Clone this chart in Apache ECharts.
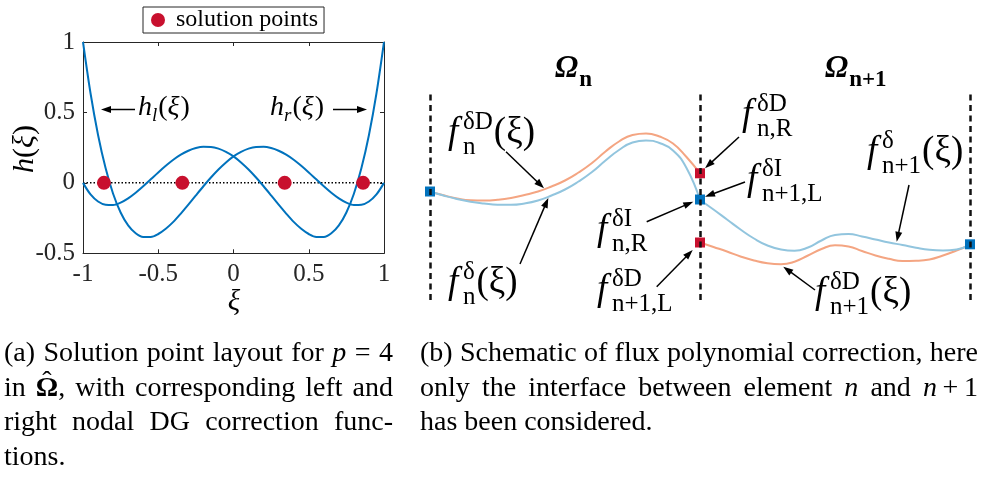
<!DOCTYPE html>
<html>
<head>
<meta charset="utf-8">
<script src="https://cdn.jsdelivr.net/npm/echarts@6/dist/echarts.min.js"></script>
<style>
html,body{margin:0;padding:0;background:#fff;}
#chart{position:absolute;left:0;top:0;width:981px;height:479px;}
.cap{position:absolute;font-family:'Liberation Serif','Times New Roman',serif;font-size:28px;color:#000;}
.cap .ln{height:34.6px;line-height:34.6px;white-space:nowrap;}
.cap .ln.j{display:flex;justify-content:space-between;align-items:baseline;}
.hat{position:relative;display:inline-block;}
.hat .hh{position:absolute;left:0;right:0;top:-6px;text-align:center;font-weight:normal;}
</style>
</head>
<body>
<div id="chart"></div>
<div class="cap" id="capA" style="left:4px;top:335px;width:389px;"></div>
<div class="cap" id="capB" style="left:420px;top:335px;width:558px;"></div>
<script>
// ---------- panel (a) data ----------
const xi = [-1,-0.95,-0.9,-0.85,-0.8,-0.75,-0.7,-0.65,-0.6,-0.55,-0.5,-0.45,-0.4,-0.35,-0.3,-0.25,-0.2,-0.15,-0.1,-0.05,0,0.05,0.1,0.15,0.2,0.25,0.3,0.35,0.4,0.45,0.5,0.55,0.6,0.65,0.7,0.75,0.8,0.85,0.9,0.95,1];
const hR = [0,-0.082,-0.132,-0.155,-0.157,-0.140,-0.110,-0.070,-0.024,0.025,0.074,0.121,0.164,0.200,0.228,0.247,0.256,0.255,0.243,0.220,0.188,0.145,0.095,0.038,-0.024,-0.089,-0.155,-0.218,-0.277,-0.326,-0.363,-0.384,-0.384,-0.358,-0.302,-0.210,-0.077,0.105,0.340,0.636,1];
const hL = [1,0.636,0.340,0.105,-0.077,-0.210,-0.302,-0.358,-0.384,-0.384,-0.363,-0.326,-0.277,-0.218,-0.155,-0.089,-0.024,0.038,0.095,0.145,0.188,0.220,0.243,0.255,0.256,0.247,0.228,0.200,0.164,0.121,0.074,0.025,-0.024,-0.070,-0.110,-0.140,-0.157,-0.155,-0.132,-0.082,0];
const solXi = [-0.861,-0.340,0.340,0.861];
const solH = [0,0,0,0];
const zeroX = [-1,1];
const zeroY = [0,0];

// ---------- panel (b) data (schematic; x: element coordinate 0..2, y: arbitrary units) ----------
const xLeft = [0,0.05,0.1,0.15,0.2,0.25,0.3,0.35,0.4,0.45,0.5,0.55,0.6,0.65,0.7,0.75,0.8,0.85,0.9,0.95,1];
const blueL = [108.5,104.5,101,98.3,96.5,95.3,95.2,96.5,99.5,104.5,110.5,118.5,128,139.5,150,157.5,159.5,157,149.5,132,100];
const orangeL = [108.5,104.7,101.5,99.7,99.5,100.2,102,105,108.5,113.5,119.5,127.5,137,148.5,158.5,165,166.5,163.5,156.5,143,126.7];
const xRight = [1,1.05,1.1,1.15,1.2,1.25,1.3,1.35,1.4,1.45,1.5,1.55,1.6,1.65,1.7,1.75,1.8,1.85,1.9,1.95,2];
const blueR = [100,90.5,80.5,70.5,61.5,54.5,50.5,49.3,52.5,59.5,65,66,63.5,60.5,57.5,55,52.3,50.2,49.5,50.5,55.7];
const orangeR = [57.5,53,48.5,43.5,39.5,36.7,35.8,38.3,44.5,51,54.7,53.5,49,44.5,41.2,39,39.2,40.5,44.5,49.5,55];
const blueSqX = [0,1,2];
const blueSqY = [108.5,100.5,55.7];
const redSqX = [1,1];
const redSqY = [126.7,57.5];
const interfaces = [0,1,2];

// ---------- captions ----------
const capA = [
  ['(a)','Solution','point','layout','for','<i>p</i>','=','4'],
  ['in','<b class="hat">Ω<span class="hh">ˆ</span></b>,','with','corresponding','left','and'],
  ['right','nodal','DG','correction','func-'],
  ['tions.']
];
const capAJust = [true,true,true,false];
const capB = [
  ['(b)','Schematic','of','flux','polynomial','correction,','here'],
  ['only','the','interface','between','element','<i>n</i>','and','<i>n</i>&thinsp;+&thinsp;1'],
  ['has','been','considered.']
];
const capBJust = [true,true,false];
function fillCap(id, lines, just){
  document.getElementById(id).innerHTML = lines.map((ws,i)=>
    '<div class="ln' + (just[i]?' j':'') + '">' + ws.map(w=>'<span>'+w+'</span>').join(just[i]?'':' ') + '</div>').join('');
}
fillCap('capA', capA, capAJust);
fillCap('capB', capB, capBJust);

const zip = (a,b) => a.map((v,i)=>[v,b[i]]);
const SERIF = "'Liberation Serif','Times New Roman',serif";
const INK = '#262626';
const BLUE = '#0072BD';
const RED = '#c8102e';
const LBLUE = '#92c5de';
const ORANGE = '#f4a582';

// ---------- text helpers ----------
const ctx = document.createElement('canvas').getContext('2d');
function tw(t, s, it, b){ ctx.font = (it?'italic ':'') + (b?'bold ':'') + s + 'px ' + SERIF; return ctx.measureText(t).width; }
function T(x, base, t, s, it, b){
  return {type:'text', x:x, y:base - 0.34*s, z:100, silent:true,
    style:{text:t, fontFamily:SERIF, fontSize:s, fontStyle:it?'italic':'normal', fontWeight:b?'bold':'normal',
      fill:'#000', align:'left', verticalAlign:'middle'}};
}
function mathRuns(x, base, runs){
  const out=[]; let cx=x;
  runs.forEach(r=>{
    if (r.stack){
      let w=0;
      if (r.sup){ out.push(T(cx, base+r.supDy, r.sup, r.s, r.it, r.b)); w=Math.max(w, tw(r.sup, r.s, r.it, r.b)); }
      if (r.sub){ out.push(T(cx, base+r.subDy, r.sub, r.s, r.it, r.b)); w=Math.max(w, tw(r.sub, r.s, r.it, r.b)); }
      cx += w + (r.after||0);
    } else {
      out.push(T(cx, base+(r.dy||0), r.t, r.s, r.it, r.b));
      cx += (r.adv!==undefined ? r.adv : tw(r.t, r.s, r.it, r.b)) + (r.after||0);
    }
  });
  return out;
}
function fLabel(x, base, sup, sub, tail){
  const runs=[{t:'f', s:37, it:true, adv:15},{stack:true, sup:sup, sub:sub, s:25, supDy:-15, subDy:10, after:1}];
  if (tail) runs.push({t:'(ξ)', s:37});
  return mathRuns(x, base, runs);
}
function hLabel(x, base, sub){
  return mathRuns(x, base, [{t:'h', s:28, it:true},{stack:true, sub:sub, s:19, it:true, subDy:5, after:1},
    {t:'(', s:28},{t:'ξ', s:28, it:true, after:1},{t:')', s:28}]);
}
function arrow(x1,y1,x2,y2){
  const L=10, W=7, lw=1.5;
  const dx=x2-x1, dy=y2-y1, d=Math.hypot(dx,dy), ux=dx/d, uy=dy/d, nx=-uy, ny=ux;
  const bx=x2-ux*L, by=y2-uy*L;
  return [
    {type:'line', z:100, silent:true, shape:{x1:x1,y1:y1,x2:bx+ux*2,y2:by+uy*2}, style:{stroke:'#000', lineWidth:lw}},
    {type:'polygon', z:100, silent:true, shape:{points:[[x2,y2],[bx+nx*W/2,by+ny*W/2],[bx-nx*W/2,by-ny*W/2]]}, style:{fill:'#000'}}
  ];
}

const graphics = [].concat(
  // panel (a) annotations
  arrow(135,109.5,101,109.5), hLabel(138,117,'l'),
  arrow(333,109.5,367,109.5), hLabel(270,117,'r'),
  [{type:'text', x:25, y:149, rotation:Math.PI/2, z:100, silent:true,
    style:{text:'{i|h}{n|(}{i|ξ}{n|)}', align:'center', verticalAlign:'middle', fill:'#000',
      rich:{i:{fontFamily:SERIF, fontSize:30, fontStyle:'italic'}, n:{fontFamily:SERIF, fontSize:30}}}},
   {type:'text', x:234, y:302, z:100, silent:true,
    style:{text:'ξ', fontFamily:SERIF, fontSize:29, fontStyle:'italic', fill:'#000', align:'center', verticalAlign:'middle'}}],
  // panel (b) titles
  mathRuns(555, 80, [{t:'Ω', s:31, it:true, b:true, after:1},{t:'n', s:23, b:true, dy:8}]),
  mathRuns(825, 80, [{t:'Ω', s:31, it:true, b:true, after:1},{t:'n+1', s:23, b:true, dy:8}]),
  // panel (b) labels
  fLabel(448,146,'δD','n',true), arrow(506,151.7,544,188.3),
  fLabel(448,296,'δ','n',true), arrow(520,264,548.3,198),
  fLabel(742,128,'δD','n,R',false), arrow(739,137,705,168.3),
  fLabel(747,193,'δI','n+1,L',false), arrow(745,182,705,196.7),
  fLabel(597,243,'δI','n,R',false), arrow(646.7,221.7,693.3,201.7),
  fLabel(597,303,'δD','n+1,L',false), arrow(656.7,286.7,692.7,250),
  fLabel(867,165,'δ','n+1',true), arrow(909,185,896.7,241.7),
  fLabel(815,306,'δD','n+1',true), arrow(815,290,783.3,266.7)
);

const axisCommon = {
  type:'value',
  axisLine:{show:true, onZero:false, lineStyle:{color:INK, width:1}},
  axisTick:{show:true, inside:true, length:4, lineStyle:{color:INK, width:1}},
  splitLine:{show:false}
};
const xLabelStyle = {fontFamily:SERIF, fontSize:25, color:INK, margin:9, formatter:v=>String(v)};
const yLabelStyle = {fontFamily:SERIF, fontSize:25, color:INK, margin:8, formatter:v=>String(v)};

const chart = echarts.init(document.getElementById('chart'), null, {renderer:'canvas'});
chart.setOption({
  animation:false,
  backgroundColor:'#fff',
  grid:[
    {left:83, top:42, width:301, height:211.3, containLabel:false},
    {left:430, top:90, width:540, height:210, containLabel:false}
  ],
  legend:{
    data:[{name:'solution points', icon:'circle'}],
    left:143, top:7, itemWidth:14, itemHeight:14, itemGap:0,
    padding:[1,6,1,8], borderColor:INK, borderWidth:1, backgroundColor:'#fff', borderRadius:0,
    selectedMode:false,
    textStyle:{fontFamily:SERIF, fontSize:24, color:'#000', padding:[0,0,0,6]}
  },
  xAxis:[
    Object.assign({}, axisCommon, {gridIndex:0, min:-1, max:1, interval:0.5, position:'bottom', axisLabel:xLabelStyle}),
    Object.assign({}, axisCommon, {gridIndex:0, min:-1, max:1, interval:0.5, position:'top', axisLabel:{show:false}}),
    {type:'value', gridIndex:1, min:0, max:2, show:false}
  ],
  yAxis:[
    Object.assign({}, axisCommon, {gridIndex:0, min:-0.5, max:1, interval:0.5, position:'left', axisLabel:yLabelStyle}),
    Object.assign({}, axisCommon, {gridIndex:0, min:-0.5, max:1, interval:0.5, position:'right', axisLabel:{show:false}}),
    {type:'value', gridIndex:1, min:0, max:210, show:false}
  ],
  series:[
    {name:'zero', type:'line', xAxisIndex:0, yAxisIndex:0, data:zip(zeroX,zeroY), showSymbol:false, silent:true, z:1,
      lineStyle:{color:'#000', width:1.5, type:[1.5,2]}},
    {name:'h_l', type:'line', xAxisIndex:0, yAxisIndex:0, data:zip(xi,hL), showSymbol:false, smooth:0.3, z:2,
      lineStyle:{color:BLUE, width:2}},
    {name:'h_r', type:'line', xAxisIndex:0, yAxisIndex:0, data:zip(xi,hR), showSymbol:false, smooth:0.3, z:2,
      lineStyle:{color:BLUE, width:2}},
    {name:'solution points', type:'scatter', xAxisIndex:0, yAxisIndex:0, data:zip(solXi,solH), symbol:'circle', symbolSize:14, z:3,
      itemStyle:{color:RED, opacity:1}},
    {name:'interfaces', type:'line', xAxisIndex:2, yAxisIndex:2, data:[], clip:false, z:1,
      markLine:{silent:true, symbol:['none','none'], label:{show:false}, animation:false,
        lineStyle:{color:'#111', width:2.5, type:[6,4.5]},
        data:interfaces.map(v=>({xAxis:v}))}},
    {name:'f_n^dD', type:'line', xAxisIndex:2, yAxisIndex:2, data:zip(xLeft,orangeL), showSymbol:false, smooth:0.5, z:2,
      lineStyle:{color:ORANGE, width:2}},
    {name:'f_n^d', type:'line', xAxisIndex:2, yAxisIndex:2, data:zip(xLeft,blueL), showSymbol:false, smooth:0.5, z:2,
      lineStyle:{color:LBLUE, width:2}},
    {name:'f_n+1^dD', type:'line', xAxisIndex:2, yAxisIndex:2, data:zip(xRight,orangeR), showSymbol:false, smooth:0.5, z:2,
      lineStyle:{color:ORANGE, width:2}},
    {name:'f_n+1^d', type:'line', xAxisIndex:2, yAxisIndex:2, data:zip(xRight,blueR), showSymbol:false, smooth:0.5, z:2,
      lineStyle:{color:LBLUE, width:2}},
    {name:'interface values D', type:'scatter', xAxisIndex:2, yAxisIndex:2, data:zip(redSqX,redSqY), symbol:'rect', symbolSize:10, z:4, clip:false,
      itemStyle:{color:RED, opacity:1}},
    {name:'interface values I', type:'scatter', xAxisIndex:2, yAxisIndex:2, data:zip(blueSqX,blueSqY), symbol:'rect', symbolSize:10, z:4, clip:false,
      itemStyle:{color:BLUE, opacity:1}}
  ],
  graphic:graphics
});
</script>
</body>
</html>
